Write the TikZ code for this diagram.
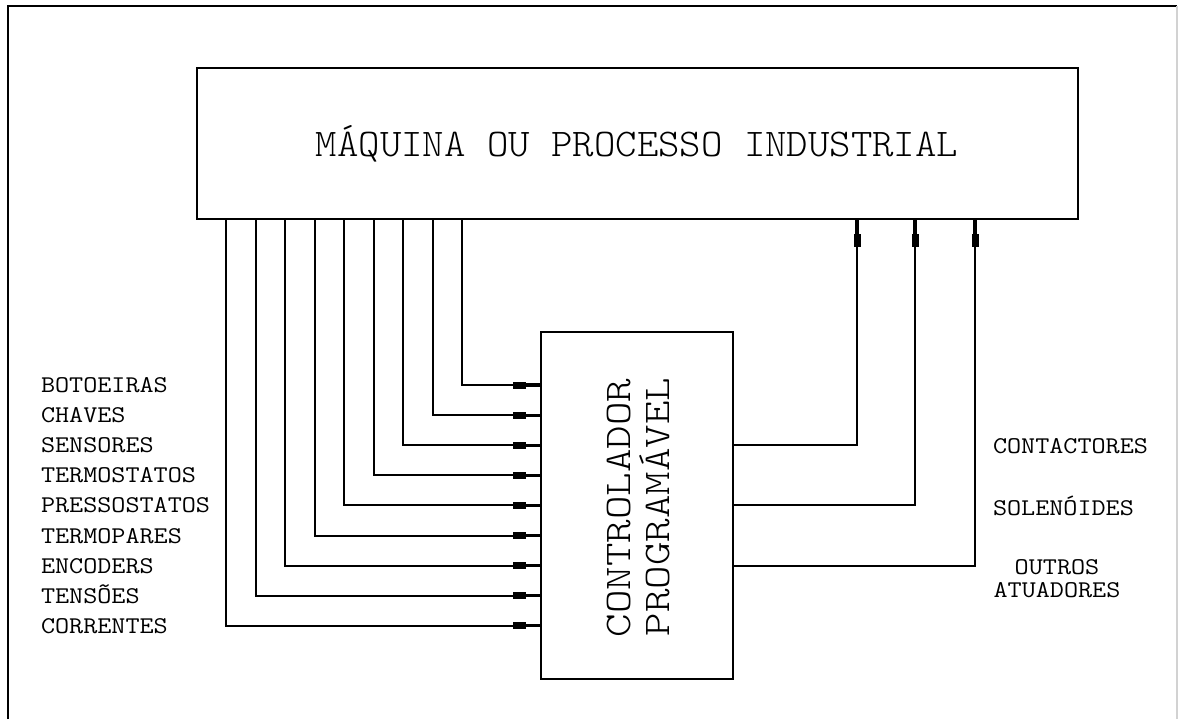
\documentclass[tikz,border=0pt]{standalone}
\usetikzlibrary{decorations.markings}
\newcommand\cadfont{\fontseries{l}\ttfamily}
\newcommand\sx[2]{\scalebox{#1}[1]{#2}}
\begin{document}
\begin{tikzpicture}[x=0.5pt,y=-0.5pt,line width=1pt,
  box/.style={draw,rectangle,inner sep=0pt},
  lbl/.style={inner sep=0pt,font=\ttfamily\fontsize{12}{12}\selectfont},
  sig/.style={draw,postaction=decorate,decoration={markings,
      mark=at position -10.25pt with {\fill (-3.25pt,-1.75pt) rectangle (3.25pt,1.75pt);
                                      \fill (3.25pt,-0.8pt) rectangle (10.25pt,0.8pt);}}}]
\useasboundingbox (0,0) rectangle (1178,719);
% outer frame
\draw (8,719) -- (8,6) -- (1177,6);
\draw[gray!35] (1177,6) -- (1177,719);
% main blocks
\node[box,minimum width=440.5pt,minimum height=75.5pt] (mach) at (637.5,143.5) {};
\node[inner sep=0pt,anchor=base,font=\cadfont\fontsize{19.6}{20}\selectfont] (title) at (637,156.7)
  {\sx{1.04}{MÁQUINA OU PROCESSO INDUSTRIAL}};
\node[box,minimum width=96pt,minimum height=173.5pt] (plc) at (637,505.5) {};
\node[inner sep=0pt,anchor=base,rotate=90,font=\cadfont\fontsize{18.8}{19}\selectfont] (plc1) at (630.7,508)
  {\sx{1.19}{CONTROLADOR}};
\node[inner sep=0pt,anchor=base,rotate=90,font=\cadfont\fontsize{18.8}{19}\selectfont] (plc2) at (669,507)
  {\sx{1.19}{PROGRAMÁVEL}};
% inputs
\foreach \k/\x/\t in {0/462/BOTOEIRAS,1/432.5/CHAVES,2/403/SENSORES,3/373.5/TERMOSTATOS,
   4/344/PRESSOSTATOS,5/314.5/TERMOPARES,6/285/ENCODERS,7/255.5/TENSÕES,8/226/CORRENTES}{
  \draw[sig] (mach.south -| \x,0) |- (plc.west |- 0,{385+30.1*\k});
  \node[lbl,anchor=base west] (in\k) at (40,{392.5+30.1*\k}) {\sx{1.14}{\t}};
}
% outputs
\foreach \k/\x in {2/857,4/915,6/975}{
  \draw[sig] (plc.east |- 0,{385+30.1*\k}) -| (mach.south -| \x,0);
}
\node[lbl,anchor=base west] (o1) at (992,453) {\sx{1.14}{CONTACTORES}};
\node[lbl,anchor=base west] (o2) at (992,515) {\sx{1.14}{SOLENÓIDES}};
\node[lbl,anchor=base] (o3) at (1057,574) {\sx{1.14}{OUTROS}};
\node[lbl,anchor=base] (o4) at (1057,597) {\sx{1.14}{ATUADORES}};
\end{tikzpicture}
\end{document}
